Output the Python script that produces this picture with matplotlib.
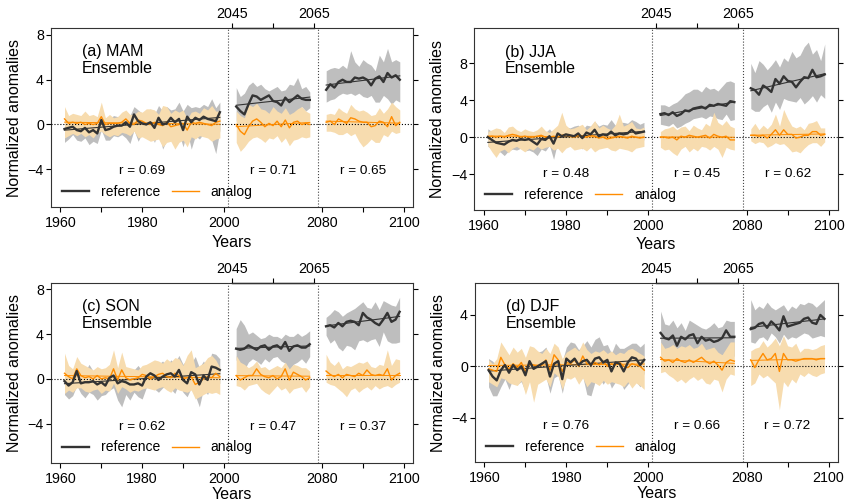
import numpy as np
import matplotlib.pyplot as plt

plt.rcParams['font.family'] = ['Liberation Sans', 'DejaVu Sans']

# years of the three periods
YEARS_1 = list(range(1961, 2000))
YEARS_2 = list(range(2046, 2065))
YEARS_3 = list(range(2081, 2100))

# ---- (a) MAM ----
MAM_REF = [-0.4, -0.3, -0.2, -0.5, -0.6, -0.3, -0.7, -0.5, -0.8, 0.4, -0.5, -0.4, -0.2, -0.1, -0.1, 0.2, -0.2, 0.9, 0.3, 0.1,
           0.0, 0.2, -0.3, 0.6, 0.0, 0.1, 0.6, 0.2, 0.5, -0.5, 0.7, 0.2, 0.6, 0.4, 0.7, 0.5, 0.4, 0.3, 1.1,
           1.6, 1.2, 0.9, 1.8, 2.6, 2.5, 2.2, 2.4, 2.6, 2.1, 2.0, 1.7, 2.4, 2.0, 2.3, 2.6, 2.3, 2.2, 2.2,
           3.1, 3.6, 3.3, 3.8, 4.0, 3.8, 3.8, 4.2, 4.1, 4.2, 4.0, 3.5, 4.1, 4.3, 3.8, 4.6, 4.2, 4.4, 4.0]
MAM_REF_HI = [0.8, 0.3, 0.5, 0.2, 0.4, 0.6, 0.2, 0.5, 0.3, 1.3, 0.5, 0.5, 0.8, 0.7, 0.9, 1.2, 0.8, 1.6, 1.3, 1.0,
              1.0, 1.4, 0.9, 1.7, 1.2, 1.6, 1.3, 1.4, 2.0, 1.2, 1.8, 1.5, 1.6, 1.5, 1.8, 1.6, 2.3, 1.5, 2.0,
              3.3, 2.5, 2.8, 3.5, 3.8, 3.4, 3.6, 3.2, 3.0, 3.2, 3.4, 3.0, 3.1, 3.6, 3.5, 4.2, 3.2, 3.4, 2.9,
              4.8, 5.0, 5.1, 5.0, 5.3, 5.0, 6.6, 5.6, 5.2, 5.8, 5.5, 5.3, 4.8, 6.2, 5.6, 6.8, 5.6, 5.8, 5.6]
MAM_REF_LO = [-1.6, -1.3, -0.9, -1.4, -1.5, -1.2, -1.8, -1.5, -1.7, -0.5, -1.4, -1.4, -1.0, -1.1, -0.9, -1.2, -1.7, -0.5, -1.5, -0.8,
              -1.2, -0.8, -1.6, -0.6, -2.2, -1.4, -0.6, -1.0, -0.8, -2.0, -0.6, -2.2, -1.0, -1.3, -0.8, -1.1, -1.4, -2.6, -0.5,
              0.3, 0.2, -0.1, 0.6, 1.4, 1.3, 1.2, 0.8, 0.6, 1.1, 1.0, 0.6, 1.0, 0.4, 0.8, 1.1, 1.6, 1.2, 1.5,
              2.0, 2.2, 2.3, 2.6, 2.8, 2.7, 2.8, 2.6, 2.8, 2.5, 2.4, 2.6, 2.0, 2.0, 2.6, 2.3, 1.8, 2.2, 2.0]
MAM_ANA = [0.5, 0.1, 0.2, 0.1, 0.2, 0.0, 0.1, 0.0, 0.1, 0.7, 0.0, 0.1, 0.1, 0.1, 0.2, 0.5, 0.1, 0.0, 0.4, 0.3,
           0.1, 0.0, 0.2, 0.0, -0.1, 0.2, -0.2, -0.1, 0.0, 0.1, -0.5, 0.2, 0.1, 0.2, 0.1, 0.0, -0.1, 0.2, 0.3,
           0.0, -0.6, -0.9, -0.2, 0.3, 0.5, 0.2, -0.2, 0.1, -0.1, 0.3, -0.2, 0.4, -0.3, 0.2, 0.3, 0.0, 0.1, 0.0,
           0.2, 0.3, 0.0, 0.5, 0.3, 0.1, 0.6, 0.5, 0.3, 0.2, 0.2, -0.2, -0.1, 0.3, 0.2, -0.2, 0.7, -0.1, 0.2]
MAM_ANA_HI = [1.6, 0.8, 1.0, 0.9, 0.8, 1.2, 0.8, 0.9, 0.7, 2.0, 0.6, 0.9, 0.6, 0.7, 1.1, 1.3, 0.9, 0.9, 1.2, 1.1,
              1.4, 1.4, 1.3, 0.9, 1.7, 1.6, 1.0, 1.3, 1.1, 1.3, 0.5, 1.1, 1.2, 1.0, 1.5, 1.3, 1.7, 1.2, 1.2,
              1.2, 0.8, 0.6, 1.8, 1.6, 1.9, 1.4, 1.3, 1.0, 1.6, 1.2, 1.0, 1.5, 0.9, 1.1, 1.4, 1.6, 1.2, 1.0,
              0.9, 1.0, 0.9, 1.5, 1.2, 1.0, 1.8, 1.4, 1.2, 1.3, 1.1, 0.8, 0.9, 1.5, 1.0, 1.4, 2.0, 1.6, 1.3]
MAM_ANA_LO = [-1.2, -1.0, -0.8, -1.0, -0.8, -1.1, -0.9, -1.2, -0.7, -0.6, -0.9, -1.1, -0.9, -1.0, -0.7, -0.8, -1.0, -0.6, -1.2, -1.1,
              -1.3, -1.5, -1.4, -1.3, -2.0, -1.6, -1.5, -2.2, -1.6, -1.4, -2.0, -1.1, -1.3, -1.0, -1.1, -1.2, -1.5, -1.3, -1.2,
              -1.6, -2.4, -2.0, -1.5, -1.2, -1.1, -1.3, -1.6, -1.2, -1.3, -1.0, -1.6, -1.2, -1.9, -1.4, -1.3, -1.1, -1.2, -1.1,
              -0.6, -0.6, -0.7, -0.9, -0.9, -0.7, -1.0, -0.8, -1.5, -2.0, -1.7, -1.3, -1.6, -1.6, -0.9, -1.1, -0.6, -0.8, -0.7]
MAM_R = ['0.69', '0.71', '0.65']

# ---- (b) JJA ----
JJA_REF = [0.0, -0.3, -0.6, -0.7, -0.8, -0.5, -0.3, -0.4, -0.2, -0.3, -0.2, -0.5, -0.8, -0.2, -0.3, 0.1, -0.7, 0.4, 0.1, 0.3,
           0.2, 0.1, 0.4, -0.1, 0.5, 0.3, 0.8, 0.1, 0.3, 0.2, 0.6, 0.2, 0.4, 0.3, 0.4, 0.8, 0.4, 0.5, 0.6,
           2.5, 2.6, 2.4, 2.7, 2.3, 2.5, 2.9, 2.8, 3.1, 3.2, 3.3, 3.1, 3.5, 3.4, 3.6, 3.5, 3.4, 3.9, 3.8,
           5.3, 5.1, 4.6, 5.6, 5.3, 4.9, 6.3, 5.8, 6.6, 6.1, 6.0, 5.4, 6.0, 6.5, 6.4, 7.3, 6.5, 6.6, 6.8]
JJA_REF_HI = [0.9, 0.6, 0.3, 0.4, 0.2, 0.5, 0.5, 0.3, 0.6, 0.5, 0.6, 0.4, 0.2, 0.7, 0.5, 0.9, 0.3, 1.1, 1.0, 1.1,
              1.0, 1.2, 1.3, 0.8, 1.3, 1.2, 1.7, 1.2, 1.4, 1.3, 1.9, 1.3, 1.6, 1.6, 1.5, 1.9, 1.7, 1.4, 1.6,
              3.5, 3.5, 3.3, 3.6, 3.8, 4.2, 4.7, 4.9, 5.2, 5.2, 4.9, 5.5, 5.2, 5.3, 5.0, 5.5, 6.0, 6.1, 5.9,
              8.0, 7.0, 8.3, 7.9, 7.3, 7.8, 8.4, 7.6, 8.6, 8.2, 9.3, 8.6, 8.9, 9.8, 10.3, 9.0, 9.5, 8.3, 10.1]
JJA_REF_LO = [-1.0, -1.3, -1.7, -1.6, -2.0, -1.5, -1.3, -1.4, -1.2, -1.5, -1.4, -1.6, -2.0, -1.3, -1.5, -0.9, -2.4, -0.5, -0.8, -0.6,
              -0.7, -0.9, -0.5, -1.3, -0.4, -0.7, 0.0, -0.8, -0.6, -0.7, -0.3, -0.8, -0.6, -0.7, -0.5, 0.0, -0.5, -0.3, -0.3,
              1.4, 1.3, 1.2, 1.5, 1.0, 1.2, 1.5, 1.7, 2.0, 2.1, 2.2, 2.0, 2.3, 2.2, 2.0, 1.9, 2.5, 1.8, 1.9,
              3.1, 2.8, 2.8, 3.3, 3.6, 2.7, 3.8, 3.0, 4.2, 4.0, 3.9, 3.8, 4.3, 3.6, 4.0, 4.5, 3.8, 4.6, 4.2]
JJA_ANA = [0.0, 0.1, 0.0, 0.1, 0.0, 0.2, 0.3, 0.2, 0.0, 0.1, 0.0, 0.0, 0.1, 0.2, 0.0, 0.0, 0.1, 0.0, 0.2, 0.3,
           0.1, 0.0, 0.2, 0.1, 0.0, 0.2, 0.1, -0.1, 0.0, -0.2, -0.1, 0.0, 0.1, 0.0, -0.1, 0.1, 0.0, -0.1, 0.0,
           0.0, 0.0, -0.1, 0.0, -0.3, 0.1, 0.0, 0.2, 0.1, 0.0, 0.1, 0.2, -0.1, 0.3, 0.1, 0.0, 0.1, -0.3, -0.3,
           0.2, 0.2, 0.1, 0.2, -0.1, 0.3, 0.8, 0.2, 0.8, 0.3, 0.3, -0.1, 0.0, 0.2, 0.2, 0.6, 0.6, 0.2, 0.3]
JJA_ANA_HI = [0.6, 0.8, 1.0, 0.9, 0.5, 1.1, 1.2, 0.8, 0.6, 0.9, 0.7, 0.6, 0.8, 1.2, 0.7, 0.5, 0.9, 1.3, 2.7, 1.3,
              0.9, 1.0, 1.2, 1.4, 0.8, 1.2, 1.8, 1.0, 1.3, 1.0, 0.8, 1.3, 2.5, 1.2, 1.4, 1.7, 1.0, 0.9, 1.1,
              0.6, 0.9, 1.0, 1.2, 0.8, 1.1, 1.2, 0.7, 1.3, 1.0, 0.8, 1.5, 1.2, 2.7, 1.6, 1.3, 1.8, 1.2, 1.0,
              0.9, 1.5, 0.8, 1.3, 0.9, 1.4, 2.5, 1.2, 3.0, 2.0, 1.2, 1.0, 1.2, 0.8, 1.5, 1.6, 1.8, 1.0, 1.0]
JJA_ANA_LO = [-0.9, -1.6, -2.2, -1.5, -1.3, -1.7, -1.2, -1.0, -1.3, -1.6, -1.2, -1.4, -1.0, -1.3, -1.1, -1.0, -1.4, -1.2, -1.7, -1.2,
              -1.0, -1.4, -1.3, -1.2, -1.5, -1.1, -1.6, -1.3, -1.2, -1.1, -1.4, -1.5, -1.2, -1.3, -1.4, -1.6, -1.2, -1.1, -1.0,
              -1.1, -1.4, -1.3, -1.7, -2.0, -1.3, -1.0, -1.6, -1.2, -1.5, -1.0, -1.1, -1.4, -1.0, -1.3, -2.2, -1.1, -1.3, -1.4,
              -0.4, -0.7, -0.5, -0.6, -1.1, -0.9, -0.6, -0.8, -0.7, -1.1, -1.6, -1.5, -1.7, -1.2, -0.8, -0.6, -0.6, -1.0, -0.5]
JJA_R = ['0.48', '0.45', '0.62']

# ---- (c) SON ----
SON_REF = [-0.2, -0.6, -0.3, 0.7, -0.4, -0.3, -0.3, -0.2, -0.5, -0.3, -0.6, 0.1, 0.3, -0.4, -0.2, -0.3, -0.5, -0.5, -0.4, -0.6,
           0.2, 0.5, 0.3, -0.1, 0.2, 0.4, 0.5, 0.2, 0.8, -0.1, -0.4, 0.6, 0.4, -0.5, 0.3, -0.1, 1.1, 1.0, 0.8,
           2.7, 2.6, 2.7, 3.0, 2.8, 2.6, 2.9, 3.0, 2.6, 2.9, 3.0, 2.7, 3.3, 2.5, 2.9, 3.0, 2.8, 2.8, 3.1,
           4.7, 4.8, 4.6, 5.0, 4.7, 5.1, 5.2, 5.1, 4.8, 5.9, 5.5, 5.3, 5.0, 4.8, 5.3, 5.9, 5.1, 5.3, 6.0]
SON_REF_HI = [0.8, 0.5, 0.9, 1.2, 0.8, 0.6, 1.3, 0.7, 0.4, 0.6, 0.5, 1.2, 1.3, 0.6, 0.5, 0.5, 0.5, 0.8, 1.2, 0.7,
              1.0, 1.3, 1.4, 1.3, 1.6, 1.1, 1.7, 1.4, 2.1, 1.3, 1.8, 1.4, 2.0, 1.0, 1.6, 1.0, 2.3, 2.2, 1.8,
              4.5, 5.3, 4.8, 4.0, 4.2, 3.9, 3.6, 3.7, 4.0, 3.8, 3.8, 3.6, 4.0, 3.8, 3.8, 4.1, 3.8, 4.0, 4.3,
              5.5, 5.8, 6.2, 6.0, 5.6, 5.9, 6.1, 6.3, 6.6, 6.9, 6.4, 6.3, 6.9, 6.2, 7.0, 6.8, 6.6, 6.5, 7.3]
SON_REF_LO = [-1.4, -1.8, -1.5, -0.6, -1.3, -1.7, -1.2, -1.4, -1.9, -1.5, -1.4, -1.0, -0.8, -1.9, -2.5, -1.4, -1.9, -1.2, -1.6, -1.8,
              -0.8, -0.4, -0.9, -1.2, -0.8, -0.6, -0.9, -1.3, -0.4, -1.2, -1.6, -0.8, -1.5, -2.5, -0.9, -1.4, -0.5, -0.5, -0.4,
              1.7, 1.1, 0.8, 1.5, 1.8, 1.6, 1.3, 1.8, 1.5, 1.9, 2.0, 1.6, 1.4, 0.8, 1.3, 1.5, 1.8, 1.4, 2.0,
              3.9, 3.2, 3.5, 2.8, 2.5, 3.0, 2.9, 2.6, 3.4, 3.5, 3.3, 3.5, 3.6, 2.9, 4.2, 3.4, 3.2, 3.2, 3.3]
SON_ANA = [0.5, 0.2, 0.0, 0.9, 0.3, 0.1, 0.2, 0.0, 0.3, 0.0, 0.1, 0.0, 0.9, -0.1, 0.8, 0.1, -0.1, 0.0, 0.1, 0.4,
           0.3, 0.0, 0.2, 0.4, 0.5, 0.2, 0.1, 0.5, 0.3, 0.0, 0.1, 0.2, -0.5, -0.3, 0.0, 0.2, 0.1, 0.5, 0.2,
           0.3, -0.1, 0.1, 0.3, 0.3, 0.9, 0.4, 0.2, 0.1, 0.3, 0.0, 0.2, 0.9, -0.1, 0.6, 0.4, 0.2, -0.1, 0.1,
           0.7, 0.4, 0.2, 0.4, 0.1, 0.4, 0.3, 0.2, 0.5, 0.3, 0.8, 0.4, 0.3, 0.4, 0.3, 0.9, -0.1, 0.3, 0.5]
SON_ANA_HI = [2.3, 1.2, 0.9, 2.0, 1.4, 1.2, 1.0, 0.8, 1.1, 0.9, 1.0, 1.3, 2.6, 1.0, 2.4, 1.1, 1.0, 0.9, 0.8, 1.2,
              1.3, 1.5, 1.7, 1.6, 1.4, 1.8, 1.5, 1.9, 1.8, 1.2, 2.1, 2.6, 1.0, 1.2, 1.4, 1.9, 2.1, 1.7, 1.0,
              2.1, 1.5, 1.3, 1.0, 1.2, 1.6, 1.0, 1.1, 0.8, 1.0, 1.2, 1.0, 1.5, 0.9, 1.3, 1.2, 1.0, 1.0, 0.7,
              2.2, 1.5, 1.2, 1.6, 0.9, 1.2, 1.1, 1.3, 1.5, 1.4, 1.6, 1.1, 1.0, 1.3, 1.2, 2.6, 1.2, 1.8, 1.7]
SON_ANA_LO = [-1.3, -1.0, -1.2, -0.8, -0.8, -1.1, -1.2, -1.0, -0.9, -1.3, -1.0, -1.1, -0.4, -1.3, -0.7, -0.9, -1.2, -1.0, -1.1, -0.9,
              -0.8, -0.9, -1.0, -0.8, -0.7, -1.0, -1.2, -0.8, -1.0, -1.1, -1.2, -1.0, -1.8, -1.6, -1.4, -1.2, -1.3, -1.2, -1.4,
              -0.6, -0.7, -1.0, -0.6, -0.5, -0.4, -0.9, -1.2, -1.4, -1.0, -0.6, -1.0, -0.8, -1.3, -0.9, -0.8, -0.7, -1.2, -0.7,
              -0.3, -0.5, -0.6, -0.9, -1.2, -1.6, -1.0, -0.8, -1.2, -0.9, -0.7, -1.0, -0.6, -0.9, -0.7, -0.6, -0.8, -0.5, -0.3]
SON_R = ['0.62', '0.47', '0.37']

# ---- (d) DJF ----
DJF_REF = [-0.3, -0.8, -1.1, -0.3, 0.1, -0.5, 0.1, -0.3, 0.0, -0.7, 0.4, -0.2, 0.0, 0.2, 0.4, -0.8, 0.2, 0.4, -1.0, 0.6,
           0.3, 0.6, 0.1, 0.4, 0.5, 0.1, 0.6, 0.7, 0.3, 0.5, -0.4, 0.3, 0.2, -0.4, 0.3, 0.7, 0.6, 0.1, 0.5,
           2.6, 2.2, 2.1, 2.4, 1.6, 2.3, 2.1, 2.4, 2.5, 1.8, 2.3, 2.0, 2.1, 1.9, 2.0, 2.2, 2.8, 2.3, 2.3,
           2.9, 3.0, 3.3, 3.4, 3.0, 3.5, 3.2, 2.8, 3.9, 3.1, 3.2, 3.3, 3.4, 3.7, 3.8, 3.4, 3.3, 4.0, 3.7]
DJF_REF_HI = [0.6, 0.4, 0.0, 0.8, 1.2, 0.8, 1.0, 0.6, 0.9, 0.4, 1.4, 1.0, 1.1, 1.2, 1.5, 0.6, 1.7, 1.3, 0.4, 1.5,
              1.9, 1.8, 1.3, 1.6, 2.0, 1.5, 2.1, 2.3, 1.6, 1.7, 1.0, 1.8, 1.4, 1.4, 1.6, 1.8, 1.8, 1.5, 1.8,
              4.3, 3.3, 3.2, 3.6, 3.0, 3.4, 2.8, 3.6, 3.4, 3.2, 3.0, 2.9, 3.1, 3.4, 3.0, 3.1, 3.6, 3.5, 3.5,
              5.2, 4.4, 4.7, 4.5, 5.0, 4.6, 4.4, 4.6, 4.8, 4.3, 4.7, 4.5, 4.9, 4.8, 5.0, 4.9, 4.6, 4.9, 5.2]
DJF_REF_LO = [-1.6, -2.3, -2.3, -1.6, -1.0, -1.8, -0.9, -1.4, -1.2, -2.0, -0.7, -1.3, -1.3, -1.0, -0.8, -2.1, -0.9, -0.7, -2.1, -0.5,
              -0.9, -0.7, -1.3, -0.8, -2.2, -2.3, -1.2, -0.9, -1.4, -0.8, -1.7, -1.2, -1.0, -1.8, -1.4, -0.9, -1.2, -1.6, -0.5,
              1.0, 0.6, 0.8, 1.2, 0.5, 0.9, 1.1, 0.4, 1.0, 1.3, 0.6, 1.0, 0.9, 0.8, 0.6, 0.9, 1.0, 0.7, 0.8,
              1.9, 1.8, 2.2, 2.3, 2.0, 2.6, 2.3, 1.8, 2.5, 2.1, 2.3, 2.2, 2.4, 2.6, 2.5, 2.2, 2.3, 2.4, 2.3]
DJF_ANA = [-0.2, -0.3, -0.4, 0.7, 0.1, -0.2, 0.2, -0.1, 0.3, -0.4, 0.2, 0.1, 0.0, 0.1, 0.5, -0.3, 0.9, 0.5, -0.4, 0.3,
           0.2, 0.5, 0.0, 0.8, 0.2, 0.1, 0.3, 0.1, 0.4, 0.0, 0.2, 0.1, 0.3, 0.0, -0.1, 0.2, 0.1, 0.0, -0.3,
           0.7, 0.4, 0.5, 0.3, 0.6, 0.4, 0.3, 0.5, 0.3, 0.5, 0.7, 0.4, 0.2, 0.4, 0.1, -0.3, 0.3, 0.5, 0.4,
           0.5, -0.1, 0.5, 1.0, 0.5, 0.6, 1.0, -0.4, 1.0, 0.5, 0.5, 0.4, 0.5, 0.6, 0.6, 0.6, 0.5, 0.6, 0.6]
DJF_ANA_HI = [0.5, 0.2, 0.6, 1.9, 1.4, 0.9, 1.5, 1.1, 1.4, 0.7, 1.6, 1.5, 1.2, 1.0, 1.4, 1.0, 1.8, 1.5, 0.6, 1.1,
              1.3, 1.5, 1.2, 1.9, 1.3, 1.0, 1.2, 1.1, 1.3, 1.0, 1.2, 0.9, 1.1, 1.0, 1.3, 1.4, 1.2, 1.0, 0.8,
              1.9, 1.4, 1.5, 1.7, 1.4, 1.6, 1.5, 1.7, 1.4, 1.5, 1.8, 1.3, 1.4, 1.5, 1.1, 0.9, 1.4, 1.9, 1.9,
              1.2, 1.4, 1.5, 2.0, 1.5, 1.8, 2.2, 1.6, 2.4, 1.6, 1.5, 1.8, 1.1, 1.4, 1.4, 1.3, 1.4, 1.6, 1.7]
DJF_ANA_LO = [-1.2, -1.4, -1.6, -0.9, -1.0, -1.3, -1.4, -1.5, -1.1, -2.2, -1.2, -2.8, -1.4, -1.2, -1.0, -1.6, -0.5, -0.8, -1.8, -0.9,
              -1.0, -0.8, -1.4, -0.9, -1.6, -1.2, -1.3, -1.5, -1.1, -1.4, -1.2, -1.3, -1.4, -1.6, -1.2, -1.7, -1.3, -1.5, -1.8,
              -0.5, -0.4, -0.7, -0.9, -1.2, -1.0, -1.3, -1.0, -0.8, -1.1, -0.9, -1.3, -1.4, -1.0, -1.1, -2.0, -1.0, -0.6, -0.7,
              -1.5, -1.3, -0.6, -0.9, -0.7, -1.0, -1.3, -3.4, -1.2, -1.6, -1.0, -1.3, -0.6, -0.8, -0.5, -0.7, -0.8, -0.6, -0.5]
DJF_R = ['0.76', '0.66', '0.72']

TITLES = ['(a) MAM', '(b) JJA', '(c) SON', '(d) DJF']
YLIMS = [(-7.4, 8.65), (-7.9, 11.8), (-7.5, 8.55), (-7.46, 6.47)]
YTICKS = [[-4, 0, 4, 8], [-4, 0, 4, 8], [-4, 0, 4, 8], [-4, 0, 4]]

# axes boxes in figure fraction (left, bottom, width, height)
BOXES = [(0.0603, 0.5879, 0.4282, 0.3570),
         (0.5606, 0.5825, 0.4303, 0.3612),
         (0.0603, 0.0801, 0.4280, 0.3567),
         (0.5615, 0.0815, 0.4290, 0.3553)]

# the three periods are drawn side by side: plot position = year - shift
SHIFTS = [0, 43, 56]
REF_COL = '#333333'
ANA_COL = '#FF8C00'
REF_FILL = '#BEBEBE'
ANA_FILL = '#F7DCAF'

panels = [
    (MAM_REF, MAM_REF_LO, MAM_REF_HI, MAM_ANA, MAM_ANA_LO, MAM_ANA_HI, MAM_R),
    (JJA_REF, JJA_REF_LO, JJA_REF_HI, JJA_ANA, JJA_ANA_LO, JJA_ANA_HI, JJA_R),
    (SON_REF, SON_REF_LO, SON_REF_HI, SON_ANA, SON_ANA_LO, SON_ANA_HI, SON_R),
    (DJF_REF, DJF_REF_LO, DJF_REF_HI, DJF_ANA, DJF_ANA_LO, DJF_ANA_HI, DJF_R),
]

fig = plt.figure(figsize=(8.46, 5.03), dpi=100)

for i, (ref, ref_lo, ref_hi, ana, ana_lo, ana_hi, rvals) in enumerate(panels):
    ax = fig.add_axes(BOXES[i])
    ref, ref_lo, ref_hi = np.array(ref), np.array(ref_lo), np.array(ref_hi)
    ana, ana_lo, ana_hi = np.array(ana), np.array(ana_lo), np.array(ana_hi)

    start = 0
    for k, yrs in enumerate([YEARS_1, YEARS_2, YEARS_3]):
        sl = slice(start, start + len(yrs))
        start += len(yrs)
        x = np.array(yrs) - SHIFTS[k]
        ax.fill_between(x, ref_lo[sl], ref_hi[sl], color=REF_FILL, lw=0, zorder=1)
        ax.fill_between(x, ana_lo[sl], ana_hi[sl], color=ANA_FILL, lw=0, zorder=2)
        # linear trends
        p_ref = np.polyfit(x, ref[sl], 1)
        p_ana = np.polyfit(x, ana[sl], 1)
        ax.plot(x, np.polyval(p_ana, x), color=ANA_COL, lw=0.7, zorder=4)
        ax.plot(x, np.polyval(p_ref, x), color=REF_COL, lw=0.8, zorder=4)
        ax.plot(x, ana[sl], color=ANA_COL, lw=1.0, zorder=5)
        ax.plot(x, ref[sl], color=REF_COL, lw=1.7, zorder=6)
        ax.text(x.mean(), 0.2, 'r = ' + rvals[k], transform=ax.get_xaxis_transform(),
                ha='center', va='center', fontsize=9.7)

    ax.axhline(0, color='black', ls=':', lw=0.8, zorder=3)
    ax.axvline(2001, color='#444444', ls=':', lw=0.8, zorder=3)
    ax.axvline(2023, color='#444444', ls=':', lw=0.8, zorder=3)

    ax.set_xlim(1957.7, 2046.3)
    ax.set_ylim(*YLIMS[i])
    ax.set_xticks([1960, 1970, 1980, 1990, 2000, 2024, 2034, 2044])
    ax.set_xticklabels(['1960', '', '1980', '', '2000', '2080', '', '2100'])
    ax.set_yticks(YTICKS[i])
    ax.tick_params(axis='both', direction='out', length=3.6, width=0.8, labelsize=10.3)
    ax.tick_params(axis='y', right=True, labelright=False, pad=1.5)
    ax.tick_params(axis='x', pad=3)
    for sp in ax.spines.values():
        sp.set_linewidth(0.8)
        sp.set_color('#333333')

    top = ax.secondary_xaxis('top', functions=(lambda v: v + 43, lambda v: v - 43))
    top.set_xticks([2045, 2055, 2065])
    top.set_xticklabels(['2045', '', '2065'])
    top.tick_params(direction='out', length=3.6, width=0.8, labelsize=10.3, pad=1.5)
    top.spines['top'].set_bounds(2045, 2065)
    top.spines['top'].set_linewidth(1.0)

    ax.set_xlabel('Years', fontsize=11.5, labelpad=3 if i < 2 else 0.5)
    ax.set_ylabel('Normalized anomalies', fontsize=11.5, labelpad=4)
    ax.text(0.085, 0.91, TITLES[i] + '\nEnsemble', transform=ax.transAxes,
            ha='left', va='top', fontsize=11.5, linespacing=1.15)

    h1, = ax.plot([], [], color=REF_COL, lw=1.7)
    h2, = ax.plot([], [], color=ANA_COL, lw=1.0)
    ax.legend([h1, h2], ['reference', 'analog'], ncol=2, frameon=False,
              loc='center left', bbox_to_anchor=(0.03, 0.085), fontsize=10,
              handlelength=1.95, handletextpad=0.85, columnspacing=0.85,
              borderpad=0, borderaxespad=0)

fig.savefig('out.png', dpi=100)
